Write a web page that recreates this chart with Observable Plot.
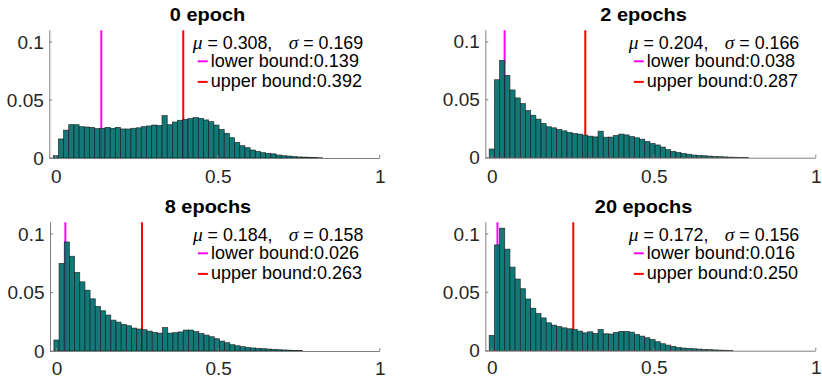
<!DOCTYPE html>
<html>
<head>
<meta charset="utf-8">
<script src="https://cdn.jsdelivr.net/npm/d3@7"></script>
<script src="https://cdn.jsdelivr.net/npm/@observablehq/plot@0.6"></script>
<style>
  body { margin: 0; background: #fff; }
  #wrap { position: relative; width: 822px; height: 380px; overflow: hidden; background: #fff; }
  #wrap svg { position: absolute; overflow: visible; background: transparent !important; }
</style>
</head>
<body>
<div id="wrap"></div>
<script>
// ---------- data ----------
const titles = ["0 epoch", "2 epochs", "8 epochs", "20 epochs"];
const means = [0.308, 0.204, 0.184, 0.172];
const sigmas = [0.169, 0.166, 0.158, 0.156];
const lowerBounds = [0.139, 0.038, 0.026, 0.016];
const upperBounds = [0.392, 0.287, 0.263, 0.250];
const binWidth = 0.016;
const firstEdge = -0.008;
const xTicks = [0, 0.5, 1];
const yTicks = [0, 0.05, 0.1];
const xDomain = [-0.02, 1];
const yDomain = [0, 0.11];

const probs0 = [0.002, 0.0164, 0.024, 0.0287, 0.0287, 0.027, 0.0267, 0.0264, 0.0253, 0.0256,
  0.0264, 0.0256, 0.0264, 0.025, 0.025, 0.0256, 0.026, 0.027, 0.0276, 0.0284,
  0.028, 0.0365, 0.0287, 0.031, 0.0325, 0.0333, 0.0339, 0.0348, 0.0342, 0.0328,
  0.0313, 0.0284, 0.0247, 0.0213, 0.0175, 0.0135, 0.0106, 0.0089, 0.0069, 0.0057,
  0.0046, 0.004, 0.0036, 0.0026, 0.002, 0.0017, 0.0012, 0.0009, 0.0008, 0.0006,
  0.0004, 0.0002, 0, 0, 0, 0, 0, 0, 0, 0, 0, 0, 0];
const probs2 = [0.0075, 0.0673, 0.084, 0.0711, 0.0585, 0.0516, 0.0467, 0.0407, 0.0367, 0.0333,
  0.0295, 0.0267, 0.0258, 0.0244, 0.0232, 0.0218, 0.0209, 0.0204, 0.0195, 0.0186,
  0.018, 0.0229, 0.0177, 0.0178, 0.0192, 0.0204, 0.0197, 0.0183, 0.0172, 0.016,
  0.0141, 0.0123, 0.011, 0.0092, 0.007, 0.0055, 0.0045, 0.0036, 0.003, 0.0023,
  0.002, 0.0017, 0.0014, 0.0011, 0.0009, 0.0007, 0.0005, 0.0004, 0.0003, 0.0002,
  0, 0, 0, 0, 0, 0, 0, 0, 0, 0, 0, 0, 0];
const probs8 = [0.0094, 0.0748, 0.0932, 0.081, 0.0671, 0.0591, 0.052, 0.0446, 0.0381, 0.0344,
  0.0307, 0.0264, 0.0247, 0.0227, 0.0216, 0.0196, 0.0188, 0.0182, 0.017, 0.0159,
  0.0153, 0.02, 0.0153, 0.0157, 0.0163, 0.0179, 0.0179, 0.0166, 0.015, 0.0136,
  0.0122, 0.0105, 0.0085, 0.0071, 0.0054, 0.0045, 0.0037, 0.0031, 0.0026, 0.0023,
  0.002, 0.0017, 0.0014, 0.0011, 0.0009, 0.0007, 0.0005, 0.0003, 0, 0,
  0, 0, 0, 0, 0, 0, 0, 0, 0, 0, 0, 0, 0];
const probs20 = [0.0131, 0.0906, 0.105, 0.087, 0.0716, 0.0614, 0.0531, 0.0443, 0.0364, 0.0318,
  0.0281, 0.0239, 0.0219, 0.0207, 0.0196, 0.0188, 0.0182, 0.0168, 0.0153, 0.0162,
  0.0148, 0.0182, 0.0145, 0.0143, 0.0155, 0.0165, 0.0165, 0.0159, 0.0139, 0.0125,
  0.0111, 0.0097, 0.0077, 0.006, 0.0048, 0.0037, 0.0028, 0.0023, 0.002, 0.0017,
  0.0014, 0.0011, 0.0009, 0.0007, 0.0005, 0.0004, 0.0002, 0, 0, 0,
  0, 0, 0, 0, 0, 0, 0, 0, 0, 0, 0, 0, 0];
const allProbs = [probs0, probs2, probs8, probs20];

// ---------- layout / style ----------
const SANS = "'Liberation Sans', Arial, Helvetica, sans-serif";
const SERIF = "'Liberation Serif', 'Times New Roman', serif";
const AXIS = "#808080";
const panels = [
  {left: 0,   top: 0,   w: 411, h: 190, ml: 49.3, mr: 31.3, mt: 30.3, mb: 32,   xpad: 11},
  {left: 411, top: 0,   w: 411, h: 190, ml: 74.3, mr: 6.2,  mt: 30.3, mb: 32.3, xpad: 11},
  {left: 0,   top: 190, w: 411, h: 190, ml: 50,   mr: 31.1, mt: 32.3, mb: 29,   xpad: 9.5},
  {left: 411, top: 190, w: 411, h: 190, ml: 74.3, mr: 6.2,  mt: 32.3, mb: 29.3, xpad: 9.5}
];

function innerTicks(index, scales, values, dims) {
  const g = d3.create("svg:g").attr("stroke", AXIS).attr("stroke-width", 1);
  const x0 = dims.marginLeft, y0 = dims.height - dims.marginBottom;
  for (const t of yTicks) g.append("line").attr("x1", x0).attr("x2", x0 + 3).attr("y1", scales.y(t)).attr("y2", scales.y(t));
  for (const t of xTicks) g.append("line").attr("x1", scales.x(t)).attr("x2", scales.x(t)).attr("y1", y0).attr("y2", y0 - 3);
  return g.node();
}

function titleMark(i) {
  return (index, scales, values, dims) => {
    const cx = (dims.marginLeft + dims.width - dims.marginRight) / 2 - 7;
    const g = d3.create("svg:g");
    g.append("text")
      .attr("transform", `translate(${cx},${dims.marginTop - 15.7}) scale(1.14,1)`)
      .attr("text-anchor", "middle").attr("dy", "0.36em")
      .attr("font-family", SANS).attr("font-weight", "bold").attr("font-size", 17.5).attr("fill", "#000")
      .text(titles[i]);
    return g.node();
  };
}

function statsLegend(i) {
  return (index, scales, values, dims) => {
    const right = dims.width - dims.marginRight, top = dims.marginTop;
    const g = d3.create("svg:g").attr("font-family", SANS).attr("font-size", 17.5)
      .attr("fill", "#000").attr("text-anchor", "start");
    const s = g.append("text").attr("text-anchor", "start")
      .attr("transform", `translate(${right - 187},${top + 18.3}) scale(1.02,1)`);
    s.append("tspan").attr("font-family", SERIF).attr("font-style", "italic").attr("font-size", 19).text("μ");
    s.append("tspan").text(" = " + means[i].toFixed(3) + ",");
    s.append("tspan").attr("dx", 16).attr("font-family", SERIF).attr("font-style", "italic").attr("font-size", 19).text("σ");
    s.append("tspan").text(" = " + sigmas[i].toFixed(3));
    const items = [
      {label: "lower bound:", v: lowerBounds[i], c: "#ff00ff", b: 36.4},
      {label: "upper bound:", v: upperBounds[i], c: "#ff0000", b: 57}
    ];
    for (const it of items) {
      g.append("line")
        .attr("x1", right - 182).attr("x2", right - 172)
        .attr("y1", top + it.b - 5.4).attr("y2", top + it.b - 5.4)
        .attr("stroke", it.c).attr("stroke-width", 2);
      g.append("text").attr("text-anchor", "start")
        .attr("transform", `translate(${right - 169},${top + it.b}) scale(1.03,1)`)
        .text(it.label + it.v.toFixed(3));
    }
    return g.node();
  };
}

const wrap = document.getElementById("wrap");
allProbs.forEach((probs, i) => {
  const p = panels[i];
  const bins = probs
    .map((v, k) => ({x1: firstEdge + k * binWidth, x2: firstEdge + (k + 1) * binWidth, y: v}))
    .filter(d => d.y > 0);
  const svg = Plot.plot({
    width: p.w, height: p.h,
    marginLeft: p.ml, marginRight: p.mr, marginTop: p.mt, marginBottom: p.mb,
    style: {fontFamily: SANS, fontSize: "19px", color: "#262626", background: "transparent", overflow: "visible"},
    x: {domain: xDomain, label: null},
    y: {domain: yDomain, label: null},
    marks: [
      Plot.ruleX([lowerBounds[i]], {stroke: "#ff00ff", strokeWidth: 2}),
      Plot.ruleX([upperBounds[i]], {stroke: "#ff0000", strokeWidth: 2}),
      Plot.rectY(bins, {x1: "x1", x2: "x2", y: "y", fill: "#006e6e", fillOpacity: 0.93, stroke: "#1a1a1a", strokeWidth: 0.7, strokeOpacity: 0.85}),
      Plot.ruleY([0], {stroke: AXIS}),
      Plot.ruleX([xDomain[0]], {stroke: AXIS}),
      innerTicks,
      Plot.axisX({ticks: xTicks, tickFormat: d => String(d), tickSize: 0, tickPadding: p.xpad, fill: "#262626", label: null}),
      Plot.axisY({ticks: yTicks, tickFormat: d => String(d), tickSize: 0, tickPadding: 6, fill: "#262626", label: null}),
      titleMark(i),
      statsLegend(i)
    ]
  });
  svg.style.left = p.left + "px";
  svg.style.top = p.top + "px";
  wrap.appendChild(svg);
});
</script>
</body>
</html>
